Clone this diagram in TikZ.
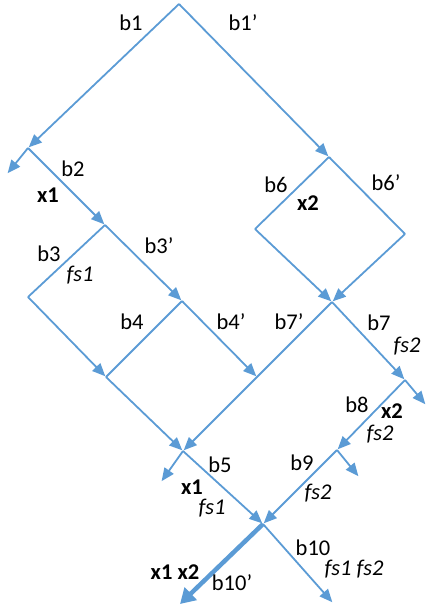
\documentclass[tikz,border=0pt]{standalone}
\usepackage{fontspec}
\setmainfont{Carlito}
\usetikzlibrary{arrows.meta}
\definecolor{lineblue}{HTML}{5B9BD5}
\tikzset{
  conn/.style={draw=lineblue, line width=1.8pt},
  arr/.style={conn, -{Triangle[length=13pt,width=11pt]}, shorten >=1pt},
  thickarr/.style={draw=lineblue, line width=4.5pt, -{Triangle[length=15pt,width=17pt]}},
  lbl/.style={font=\fontsize{22.5}{24}\selectfont, inner sep=0pt},
  lblb/.style={lbl, font=\fontsize{22.5}{24}\selectfont\bfseries},
  lbli/.style={lbl, font=\fontsize{22.5}{24}\selectfont\itshape},
}
\begin{document}
\begin{tikzpicture}[x=1pt,y=-1pt]
\useasboundingbox (0,0) rectangle (427,608);
% junctions
\coordinate (T) at (179,4);
\coordinate (A) at (28,148);
\coordinate (A2) at (7,174);
\coordinate (F1) at (329,157);
\coordinate (B) at (105,225);
\coordinate (C) at (182,301);
\coordinate (L3) at (28,297);
\coordinate (D) at (106,377);
\coordinate (E) at (257,377);
\coordinate (F) at (332,302);
\coordinate (DL) at (255,229);
\coordinate (DR) at (405,234);
\coordinate (G) at (183,451);
\coordinate (G2) at (161,482);
\coordinate (H) at (263,524);
\coordinate (I) at (405,380);
\coordinate (I2) at (426,405);
\coordinate (J) at (337,450);
\coordinate (J2) at (359,477);
\coordinate (K1) at (180,604);
\coordinate (K2) at (333,603);
% connectors
\draw[arr] (T) -- (A);
\draw[arr] (T) -- (F1);
\draw[arr] (A) -- (A2);
\draw[arr] (A) -- (B);
\draw[arr] (B) -- (C);
\draw[conn] (B) -- (L3);
\draw[arr] (L3) -- (D);
\draw[conn] (C) -- (D);
\draw[arr] (C) -- (E);
\draw[conn] (F1) -- (DL);
\draw[conn] (F1) -- (DR);
\draw[arr] (DL) -- (F);
\draw[arr] (DR) -- (F);
\draw[arr] (F) -- (G);
\draw[arr] (F) -- (I);
\draw[arr] (D) -- (G);
\draw[arr] (G) -- (G2);
\draw[arr] (G) -- (H);
\draw[arr] (I) -- (I2);
\draw[arr] (I) -- (J);
\draw[arr] (J) -- (J2);
\draw[arr] (J) -- (H);
\draw[thickarr] (H) -- (K1);
\draw[arr] (H) -- (K2);
% labels
\node[lbl] (lb1) at (131,23) {b1};
\node[lbl] (lb1p) at (243,23) {b1’};
\node[lbl] (lb2) at (73,169) {b2};
\node[lblb] (lx1a) at (48,195) {x1};
\node[lbl] (lb3p) at (159,246) {b3’};
\node[lbl] (lb3) at (49,254) {b3};
\node[lbli] (lfs1a) at (80,275) {fs1};
\node[lbl] (lb6) at (276,185) {b6};
\node[lblb] (lx2a) at (308,203) {x2};
\node[lbl] (lb6p) at (386,183) {b6’};
\node[lbl] (lb4) at (132,322) {b4};
\node[lbl] (lb4p) at (231,322) {b4’};
\node[lbl] (lb7p) at (289,322) {b7’};
\node[lbl] (lb7) at (379,323) {b7};
\node[lbli] (lfs2a) at (407,346) {fs2};
\node[lbl] (lb8) at (357,405) {b8};
\node[lblb] (lx2b) at (392,411) {x2};
\node[lbli] (lfs2b) at (380,434) {fs2};
\node[lbl] (lb5) at (220,465) {b5};
\node[lbl] (lb9) at (302,463) {b9};
\node[lblb] (lx1b) at (192,487) {x1};
\node[lbli] (lfs1b) at (212,508) {fs1};
\node[lbli] (lfs2c) at (318,493) {fs2};
\node[lbl] (lb10) at (313,548) {b10};
\node[lbli] (lfs12) at (354,569) {fs1 fs2};
\node[lblb] (lx12) at (175,572) {x1 x2};
\node[lbl] (lb10p) at (232,583) {b10’};
\end{tikzpicture}
\end{document}
